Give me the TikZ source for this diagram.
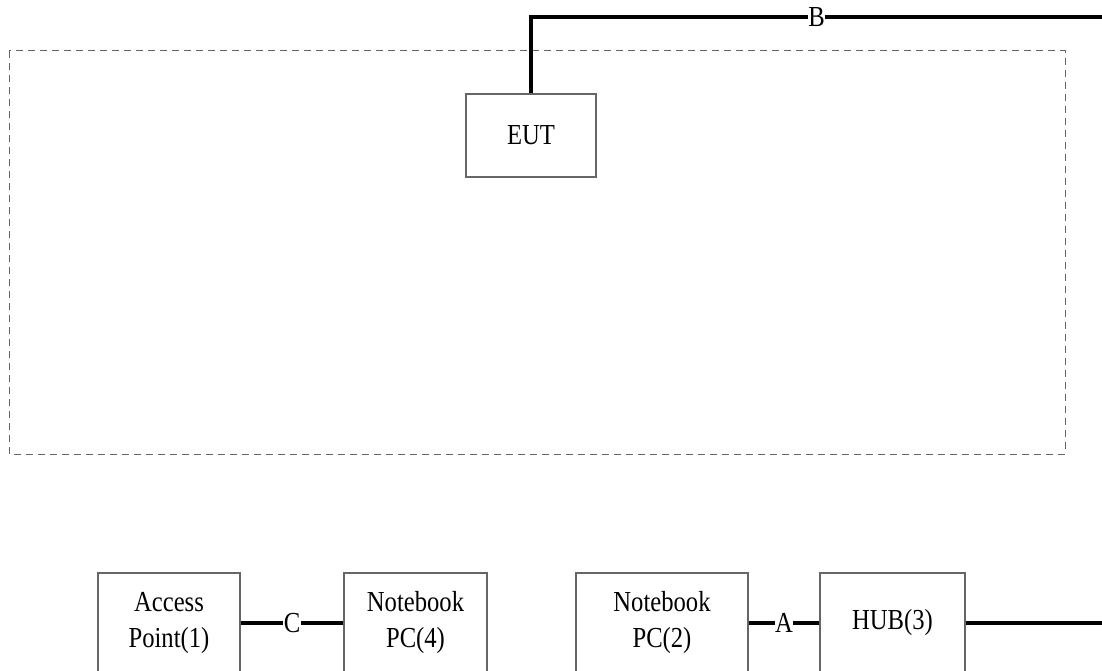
\documentclass[tikz,border=0pt]{standalone}
\usepackage{fontspec}
\setmainfont{Liberation Serif}[FakeStretch=0.85]
\begin{document}
\begin{tikzpicture}[x=1pt,y=-1pt,
  box/.style={draw=black!60, line width=1.1pt, inner sep=0pt, align=center,
    font=\fontsize{29}{36}\selectfont},
  cable/.style={line width=4.5pt, line join=miter},
  lab/.style={fill=white, inner sep=0.5pt, font=\fontsize{29}{36}\selectfont},
  zone/.style={draw=black!60, line width=1pt, dash pattern=on 7pt off 5pt}]
\useasboundingbox (0,0) rectangle (1102,671);
\clip (0,0) rectangle (1102,671);
\fill[white] (0,0) rectangle (1102,671);
\draw[zone] (9,51) rectangle (1065,454);
\node[box, minimum width=130pt, minimum height=83pt] (eut) at (531,135.5) {EUT};
\node[box, minimum width=142pt, minimum height=100pt] (ap) at (169,623) {Access\\Point(1)};
\node[box, minimum width=143pt, minimum height=100pt] (nb4) at (415.5,623) {Notebook\\PC(4)};
\node[box, minimum width=172pt, minimum height=100pt] (nb2) at (662,623) {Notebook\\PC(2)};
\node[box, minimum width=145pt, minimum height=100pt] (hub) at (892.5,623) {HUB(3)};
\coordinate (topright) at (1102,17);
\coordinate (hubout) at (1102,623);
\draw[cable] (eut.north) |- node[lab, pos=0.75] {B} (topright);
\draw[cable] (ap.east) -- node[lab] {C} (nb4.west);
\draw[cable] (nb2.east) -- node[lab] {A} (hub.west);
\draw[cable] (hub.east) -- (hubout);
\end{tikzpicture}
\end{document}
